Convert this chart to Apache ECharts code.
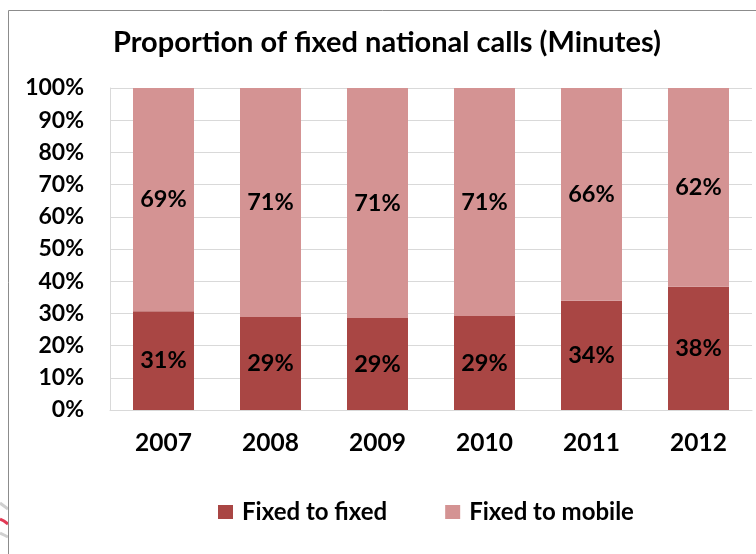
<!DOCTYPE html>
<html><head><meta charset="utf-8">
<script src="https://cdn.jsdelivr.net/npm/echarts@6/dist/echarts.min.js"></script>
<style>html,body{margin:0;padding:0;background:#fff}#c{width:756px;height:554px}</style>
</head><body><div id="c"></div>
<script>
const years = ['2007','2008','2009','2010','2011','2012'];
const fixedToFixed = [30.7, 28.9, 28.6, 29.2, 33.9, 38.3];
const fixedToMobile = [69.3, 71.1, 71.4, 70.8, 66.1, 61.7];
const seriesNames = ['Fixed to fixed', 'Fixed to mobile'];
const FONT = 'Lato';
const chart = echarts.init(document.getElementById('c'));
const lbl = {show:true, position:'inside', color:'#000', fontFamily:FONT, fontWeight:'bold', fontSize:23.5,
  formatter: p => Math.round(p.value) + '%'};
chart.setOption({
  animation:false,
  graphic:[
    {type:'polyline', shape:{points:[[0,503],[4,506],[8,509]]}, style:{stroke:'#d0d0d0', lineWidth:3, fill:null}},
    {type:'polyline', shape:{points:[[0,519],[4,521],[8,524]]}, style:{stroke:'#e23a55', lineWidth:3, fill:null}},
    {type:'polyline', shape:{points:[[0,533],[4,535],[8,537]]}, style:{stroke:'#d0d0d0', lineWidth:3, fill:null}},
    {type:'rect', shape:{x:8.5,y:10.5,width:800,height:600}, style:{fill:'none', stroke:'#8c8c8c', lineWidth:1}}
  ],
  title:{text:'Proportion of fixed national calls (Minutes)', left:108, top:23,
    textStyle:{fontFamily:FONT, fontWeight:'bold', fontSize:29, color:'#000'}},
  legend:{bottom:25, left:213, itemWidth:15, itemHeight:14, itemGap:58, icon:'rect',
    textStyle:{fontFamily:FONT, fontWeight:'bold', fontSize:24, color:'#000', padding:[0,0,0,4]}},
  grid:{left:110, right:4, top:88, bottom:144},
  xAxis:{type:'category', data:years, axisTick:{show:false},
    axisLine:{lineStyle:{color:'#d9d9d9'}},
    axisLabel:{fontFamily:FONT, fontWeight:'bold', fontSize:24.5, color:'#000', margin:21}},
  yAxis:{type:'value', min:0, max:100, interval:10,
    axisLine:{show:true, lineStyle:{color:'#d9d9d9'}}, axisTick:{show:false},
    splitLine:{lineStyle:{color:'#d9d9d9'}},
    axisLabel:{formatter:'{value}%', fontFamily:FONT, fontWeight:'bold', fontSize:23, color:'#000', margin:26}},
  series:[
    {name:seriesNames[0], type:'bar', stack:'a', data:fixedToFixed, barWidth:'57%', itemStyle:{color:'#A94644'}, label:lbl},
    {name:seriesNames[1], type:'bar', stack:'a', data:fixedToMobile, barWidth:'57%', itemStyle:{color:'#D49393'}, label:lbl}
  ]
});
</script></body></html>
